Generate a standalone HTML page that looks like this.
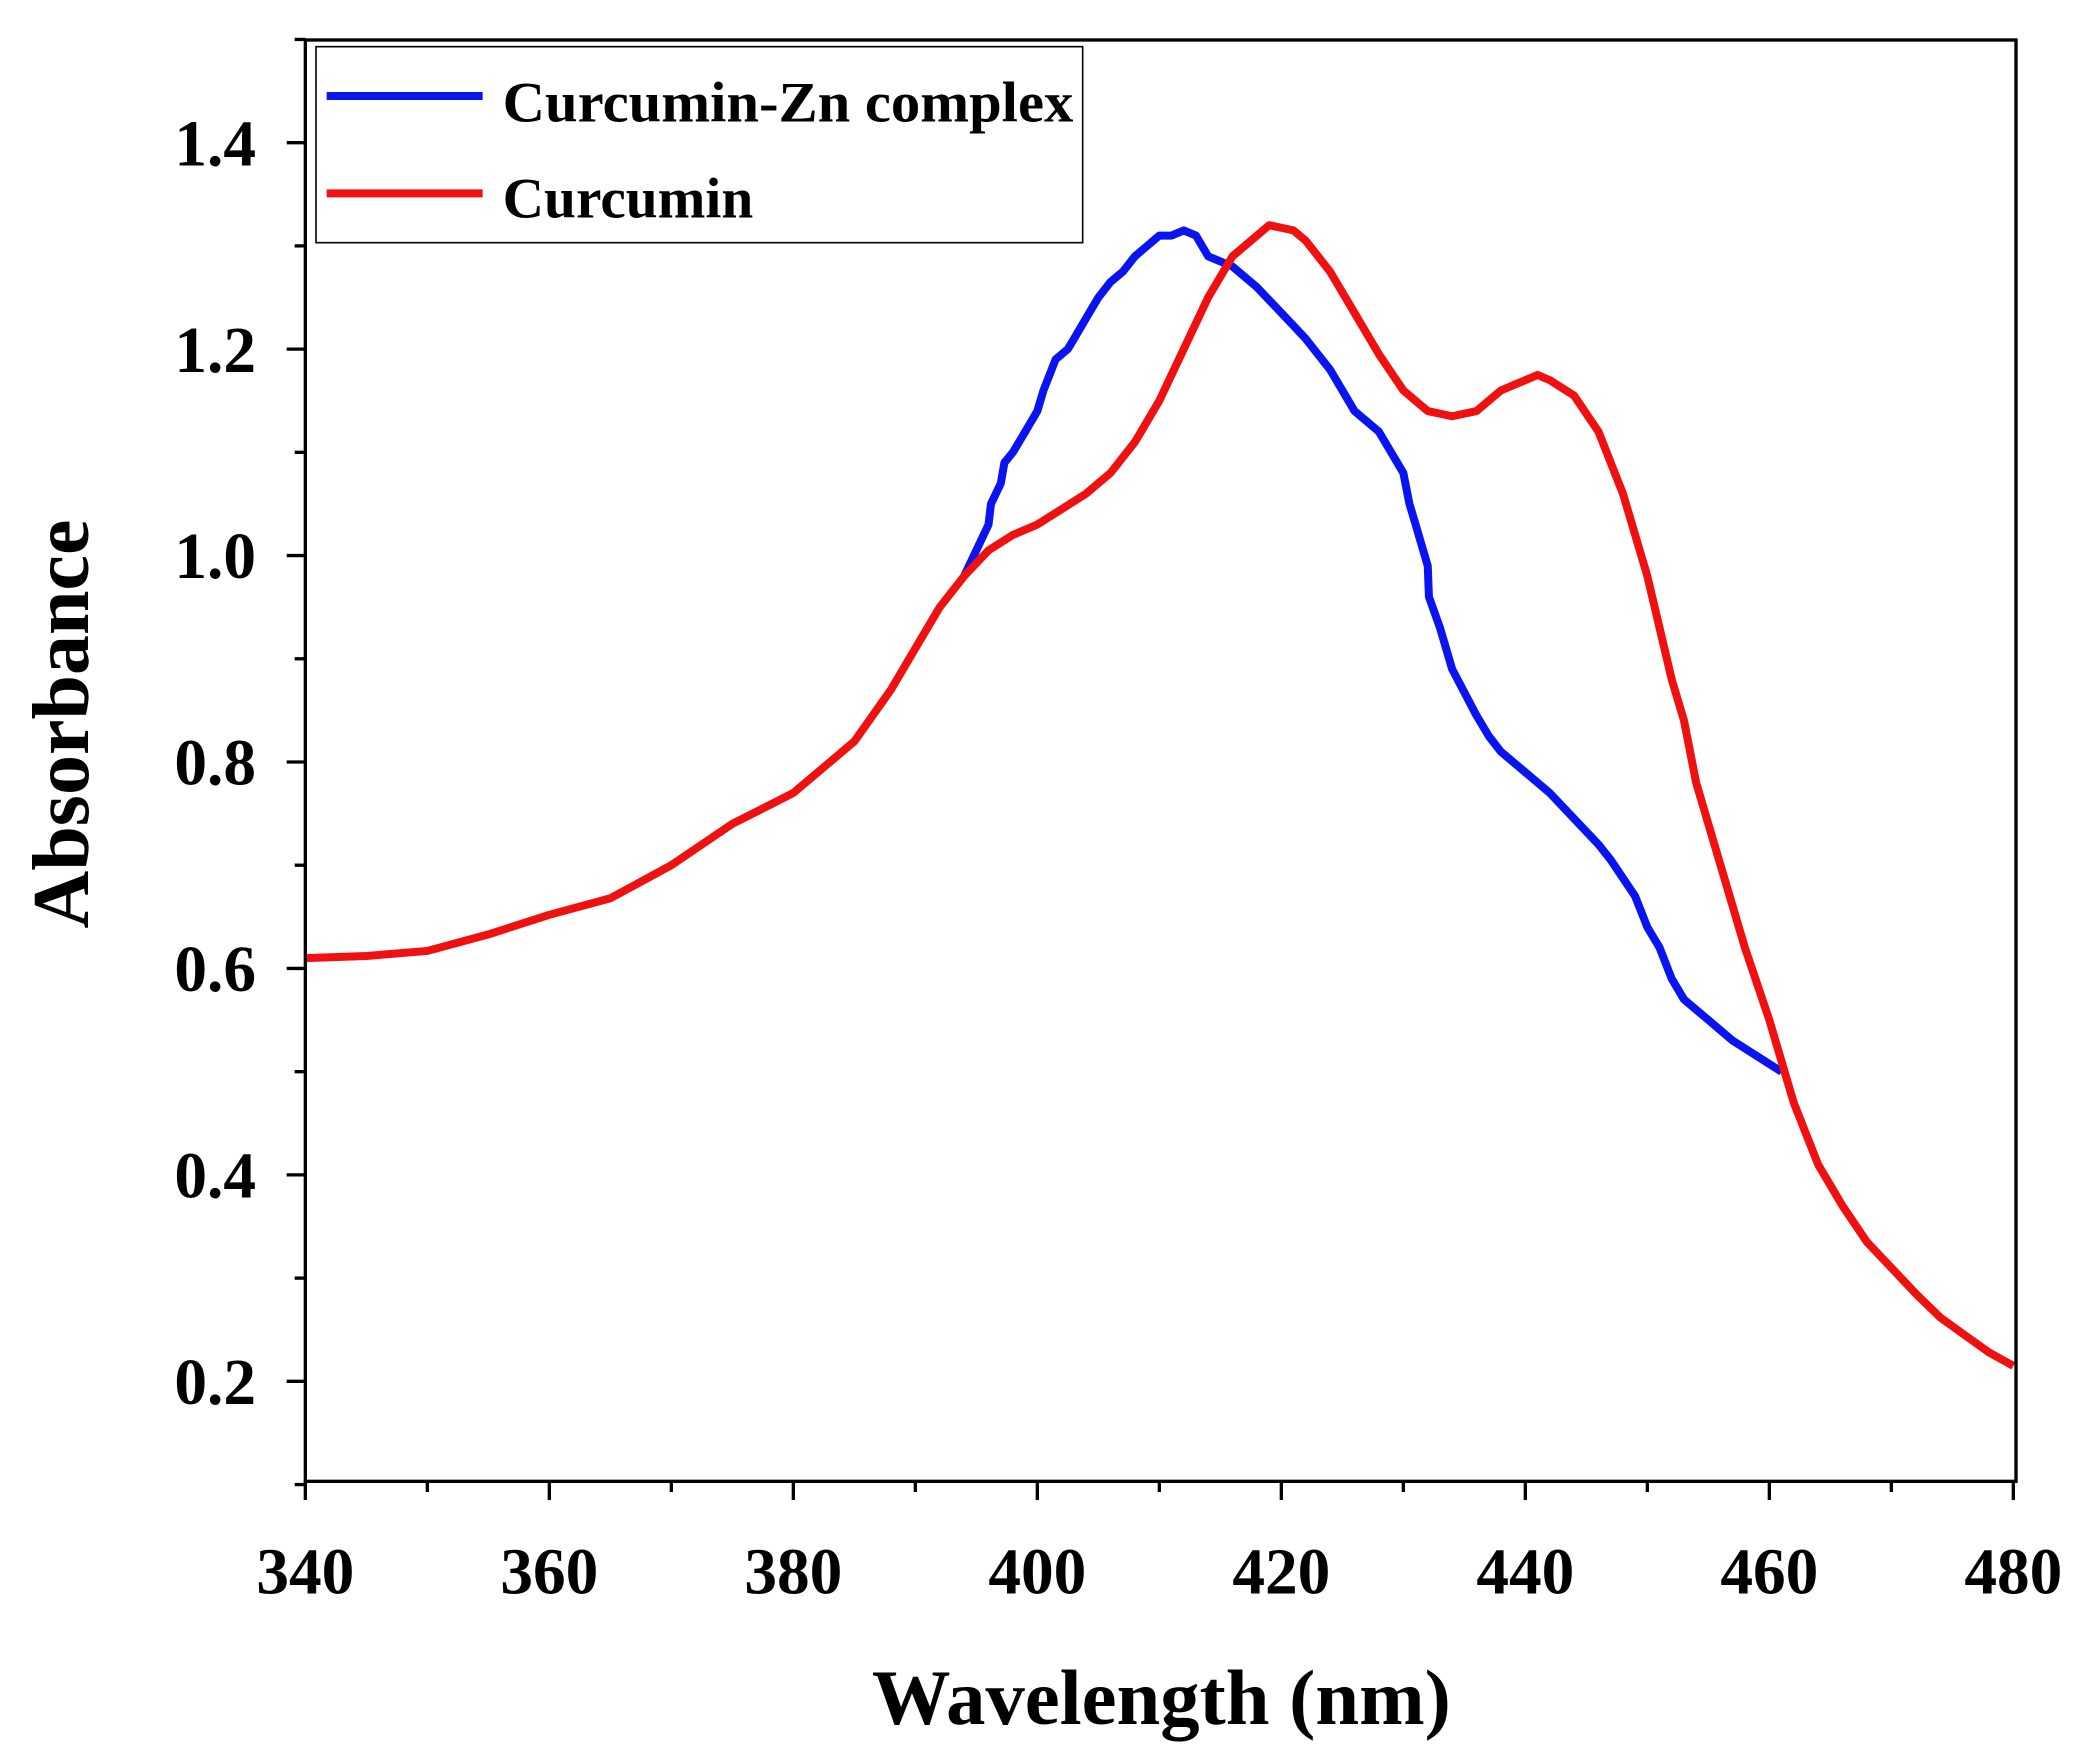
<!DOCTYPE html>
<html><head><meta charset="utf-8"><style>html,body{margin:0;padding:0;background:#fff}svg{display:block}</style></head>
<body>
<svg id="chart" width="2088" height="1760" viewBox="0 0 1566 1320" preserveAspectRatio="none" xmlns="http://www.w3.org/2000/svg" font-family="'Liberation Serif', serif" font-weight="bold">
<rect x="0" y="0" width="1566" height="1320" fill="#fff"/>
<g id="ticks"></g>
<g id="series"></g>
<rect x="229" y="30" width="1283" height="1081" fill="none" stroke="#000" stroke-width="2.5"/>
<g>
<rect x="237" y="35" width="575" height="147" fill="#fff" stroke="#000" stroke-width="1.2"/>
<line x1="245" y1="72" x2="362" y2="72" stroke="#0a14f0" stroke-width="6"/>
<text x="377" y="91" font-size="43" textLength="428" lengthAdjust="spacingAndGlyphs">Curcumin-Zn complex</text>
<line x1="245" y1="145" x2="362" y2="145" stroke="#f01010" stroke-width="6"/>
<text x="377" y="163" font-size="43">Curcumin</text>
</g>
<text x="871" y="1293" font-size="59" text-anchor="middle">Wavelength (nm)</text>
<text transform="translate(66,543) rotate(-90)" font-size="60" text-anchor="middle">Absorbance</text>
</svg>
<script>
const xTicks = [340,360,380,400,420,440,460,480];
const yTicks = [0.2,0.4,0.6,0.8,1.0,1.2,1.4];
const curX = [340,345,350,355,360,365,370,375,380,383,385,388,390,392,394,396,398,400,402,404,406,408,410,412,414,416,418,419,421,422,424,426,428,430,432,434,436,438,440,441,442,444,446,448,450,452,453,454,456,458,460,462,464,466,468,470,472,474,476,478,480];
const curY = [0.61,0.612,0.617,0.633,0.652,0.668,0.70,0.74,0.77,0.80,0.82,0.87,0.91,0.95,0.98,1.005,1.02,1.03,1.045,1.06,1.08,1.11,1.15,1.2,1.25,1.29,1.31,1.32,1.315,1.305,1.275,1.235,1.195,1.16,1.14,1.135,1.14,1.16,1.17,1.175,1.17,1.155,1.12,1.06,0.98,0.88,0.84,0.78,0.70,0.62,0.55,0.47,0.41,0.37,0.335,0.31,0.285,0.262,0.245,0.228,0.215];
const znX = [394,396,396.2,397,397.3,398,399,400,400.5,401.5,402.5,403,404,405,406,407,408,410,411,412,413,414,416,418,420,422,424,426,428,430,430.5,431,432,432.1,433,434,436,437,438,440,442,444,446,447,449,450,451,452,453,455,457,461];
const znY = [0.98,1.03,1.05,1.07,1.09,1.10,1.12,1.14,1.16,1.19,1.20,1.21,1.23,1.25,1.265,1.275,1.29,1.31,1.31,1.315,1.31,1.29,1.28,1.26,1.235,1.21,1.18,1.14,1.12,1.08,1.05,1.03,0.99,0.96,0.93,0.89,0.845,0.825,0.81,0.79,0.77,0.745,0.72,0.705,0.67,0.64,0.62,0.59,0.57,0.55,0.53,0.5];
const NS='http://www.w3.org/2000/svg';
function sx(v){return 229+(v-340)*(1281/140);}
function sy(v){return 1036-(v-0.2)*(929/1.2);}
const tg=document.getElementById('ticks');
function line(x1,y1,x2,y2,name){const l=document.createElementNS(NS,'line');l.setAttribute('x1',x1);l.setAttribute('y1',y1);l.setAttribute('x2',x2);l.setAttribute('y2',y2);l.setAttribute('stroke','#000');l.setAttribute('stroke-width','2.5');


tg.appendChild(l);}
function text(x,y,s,anchor,name){const t=document.createElementNS(NS,'text');t.setAttribute('x',x);t.setAttribute('y',y);t.setAttribute('font-size','49');t.setAttribute('text-anchor',anchor);t.textContent=s;


tg.appendChild(t);}
xTicks.forEach((v,i)=>{line(sx(v),1111,sx(v),1125,'x-tick');text(sx(v),1195,String(v),'middle','x-tick-label');
 if(i<xTicks.length-1){line(sx(v+10),1111,sx(v+10),1119,'x-minor-tick');}});
yTicks.forEach(v=>{line(229,sy(v),215,sy(v),'y-tick');text(192,sy(v)+17,v.toFixed(1),'end','y-tick-label');});
[0.1,0.3,0.5,0.7,0.9,1.1,1.3,1.5].forEach(v=>line(229,sy(v),221,sy(v),'y-minor-tick'));
const sg=document.getElementById('series');
function path(xs,ys,color,name){const p=document.createElementNS(NS,'path');p.setAttribute('d',xs.map((x,i)=>(i?'L':'M')+sx(x).toFixed(1)+','+sy(ys[i]).toFixed(1)).join(' '));p.setAttribute('fill','none');p.setAttribute('stroke',color);p.setAttribute('stroke-width','6');p.setAttribute('stroke-linejoin','round');


sg.appendChild(p);}
path(znX,znY,'#0a14f0','curcumin-zn-line');
path(curX,curY,'#f01010','curcumin-line');
</script>
</body></html>
